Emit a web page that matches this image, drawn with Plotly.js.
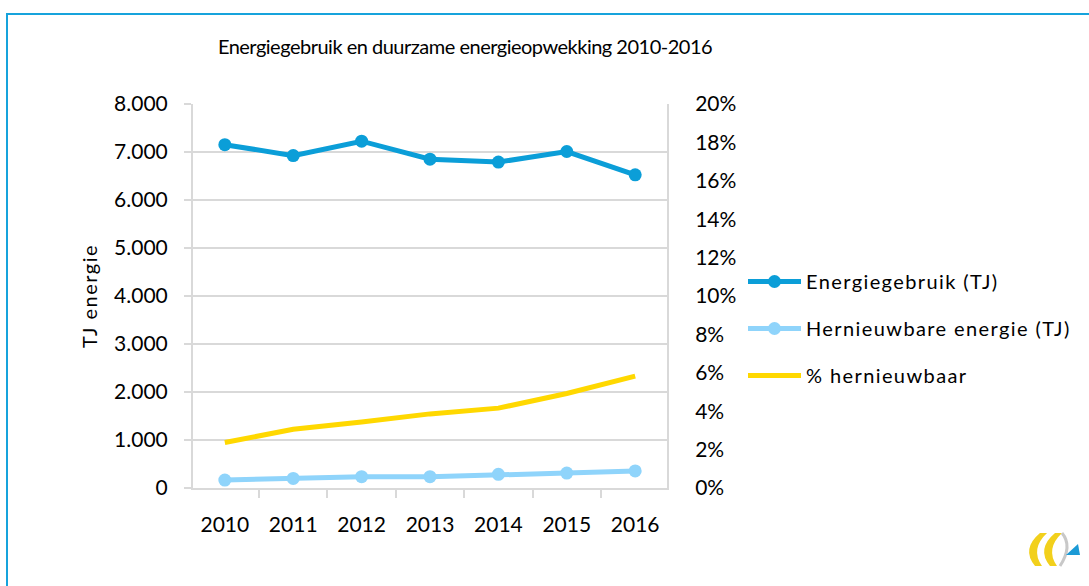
<!DOCTYPE html>
<html>
<head>
<meta charset="utf-8">
<script src="https://cdn.plot.ly/plotly-3.0.1.min.js"></script>
<style>
  html, body { margin:0; padding:0; background:#fff; }
  #frame { position:absolute; left:6px; top:13px; width:1200px; height:700px;
           border-left:2px solid #16a3dc; border-top:2px solid #16a3dc; pointer-events:none; z-index:5; }
  #chart { position:absolute; left:0; top:0; width:1089px; height:586px; }
  #chart .legendtext { letter-spacing: 1.4px; }
  #chart g.legend g.scrollbox { clip-path: none !important; }
  #chart .gtitle { letter-spacing: -0.5px; }
  #chart .ytitle { letter-spacing: 1.5px; }
</style>
</head>
<body>
<div id="chart"></div>
<div id="frame"></div>
<script>
const years = ['2010','2011','2012','2013','2014','2015','2016'];
const energiegebruik = [7153, 6925, 7225, 6850, 6790, 7010, 6525];
const hernieuwbaar = [165, 200, 235, 235, 285, 310, 355];
const pctHernieuwbaar = [0.0237, 0.0306, 0.0344, 0.0386, 0.0416, 0.0492, 0.0583];

const FONT = 'Lato, "Open Sans", sans-serif';

// plot area geometry (px) used only to place the decorative logo
const PL = 193, PR = 667, PT = 104, PB = 488;
function P(pts) {
  return pts.replace(/(-?[\d.]+),(-?[\d.]+)/g, (m, x, y) =>
    ((+x - PL) / (PR - PL)).toFixed(4) + ',' + ((PB - +y) / (PB - PT)).toFixed(4));
}

const traces = [
  { x: years, y: energiegebruik, name: 'Energiegebruik (TJ)', type: 'scatter', mode: 'lines+markers',
    line: {color: '#0b9ed8', width: 5}, marker: {color: '#0b9ed8', size: 13}, legendgroup: 'a' },
  { x: years, y: hernieuwbaar, name: 'Hernieuwbare energie (TJ)', type: 'scatter', mode: 'lines+markers',
    line: {color: '#8fd4fb', width: 5}, marker: {color: '#8fd4fb', size: 13}, legendgroup: 'b' },
  { x: years, y: pctHernieuwbaar, name: '% hernieuwbaar', type: 'scatter', mode: 'lines', yaxis: 'y2',
    line: {color: '#ffd800', width: 5}, legendgroup: 'c' }
];

const layout = {
  width: 1089, height: 586,
  margin: {l: 193, r: 422, t: 104, b: 98},
  paper_bgcolor: '#fff', plot_bgcolor: '#fff',
  separators: ',.',
  font: {family: FONT, size: 20, color: '#000'},
  title: {text: 'Energiegebruik en duurzame energieopwekking 2010-2016',
          font: {family: FONT, size: 20, color: '#000'},
          xref: 'container', x: 465/1089, xanchor: 'center',
          yref: 'container', y: 1 - 47/586, yanchor: 'middle'},
  xaxis: {type: 'category', showgrid: false, showline: true, linecolor: '#d9d9d9', linewidth: 2,
          ticks: 'outside', tickson: 'boundaries', ticklen: 8, tickcolor: '#d9d9d9', tickwidth: 2,
          ticklabelstandoff: 17, tickfont: {size: 21}, fixedrange: true},
  yaxis: {range: [0, 8000], dtick: 1000, tickformat: ',d', showgrid: true, gridcolor: '#d9d9d9', gridwidth: 2,
          showline: true, linecolor: '#d9d9d9', linewidth: 2, ticks: 'outside', ticklen: 7,
          tickcolor: '#d9d9d9', tickwidth: 2, ticklabelstandoff: 12, zeroline: false,
          tickfont: {size: 21},
          title: {text: 'TJ energie', font: {size: 20}, standoff: 11}},
  yaxis2: {overlaying: 'y', side: 'right', range: [0, 0.2], dtick: 0.02, tickformat: '.0%',
           showgrid: false, zeroline: false, showline: true, linecolor: '#d9d9d9', linewidth: 2,
           ticks: '', ticklabelstandoff: 22, tickfont: {size: 21}},
  showlegend: true,
  legend: {x: 743/1089, xref: 'container', xanchor: 'left', y: 1 - 262/586, yref: 'container', yanchor: 'top',
           traceorder: 'grouped', tracegroupgap: 18, itemwidth: 53,
           font: {size: 20}, bgcolor: 'rgba(0,0,0,0)'},
  shapes: [
    {type: 'path', xref: 'paper', yref: 'paper',
     path: P('M 1040,533 Q 1021,549 1035,566 L 1042,566 Q 1030,549 1047,533 Z'),
     fillcolor: '#f2d01c', line: {width: 0}},
    {type: 'path', xref: 'paper', yref: 'paper',
     path: P('M 1055,533 Q 1036,549 1050,566 L 1057,566 Q 1045,549 1062,533 Z'),
     fillcolor: '#f2d01c', line: {width: 0}},
    {type: 'path', xref: 'paper', yref: 'paper',
     path: P('M 1062,533 Q 1073,546 1060,566'),
     line: {color: '#c8c8c8', width: 3}},
    {type: 'path', xref: 'paper', yref: 'paper',
     path: P('M 1066,555 L 1080,555 L 1078,544 Z'),
     fillcolor: '#1b9ad6', line: {width: 0}}
  ]
};

Plotly.newPlot('chart', traces, layout, {displayModeBar: false, staticPlot: true});
</script>
</body>
</html>
